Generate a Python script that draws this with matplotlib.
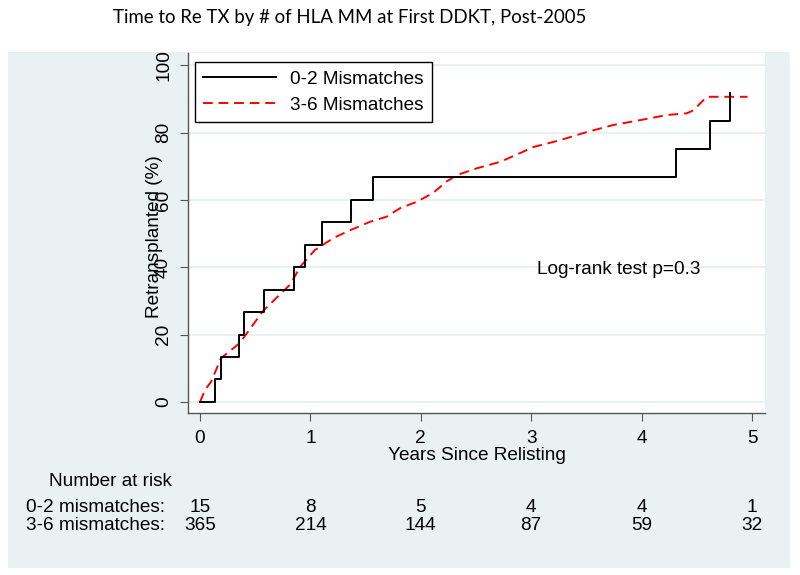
import matplotlib
matplotlib.use("Agg")
import matplotlib.pyplot as plt
from matplotlib.patches import Rectangle

# 0-2 mismatches: step times (years) and cumulative % retransplanted
low_t = [0, 0.14, 0.19, 0.355, 0.397, 0.577, 0.852, 0.952, 1.106, 1.369, 1.565, 4.315, 4.624, 4.80]
low_y = [0, 6.7, 13.3, 20.0, 26.7, 33.3, 40.0, 46.7, 53.3, 60.0, 66.7, 75.0, 83.3, 91.7]

# 3-6 mismatches
high_t = [0, 0.045, 0.10, 0.19, 0.36, 0.57, 0.82, 0.906, 1.04, 1.21, 1.36, 1.54, 1.69, 1.81,
          1.96, 2.11, 2.23, 2.33, 2.51, 2.72, 2.90, 3.02, 3.26, 3.50, 3.74, 3.99, 4.23,
          4.41, 4.47, 4.59, 4.96]
high_y = [0, 3.6, 6.0, 13.0, 17.5, 27.0, 35.0, 40.1, 45.1, 48.7, 51.0, 53.5, 55.0, 57.5,
          59.4, 62.0, 65.4, 67.4, 69.4, 71.3, 73.9, 75.7, 77.7, 80.1, 82.2, 83.7, 85.2,
          85.7, 86.6, 90.6, 90.6]

risk_times = [0, 1, 2, 3, 4, 5]
risk_low = [15, 8, 5, 4, 4, 1]
risk_high = [365, 214, 144, 87, 59, 32]

fnt = "Liberation Sans"
fs = 13.7
panel = "#eaf1f3"

fig = plt.figure(figsize=(8, 5.75), dpi=100)
fig.patch.set_facecolor("white")
bg = Rectangle((8 / 800, 7 / 575), 782 / 800, 516 / 575, transform=fig.transFigure,
               facecolor=panel, edgecolor="none", zorder=-5)
fig.add_artist(bg)

ax = fig.add_axes([188 / 800, 162 / 575, 577 / 800, 360 / 575])
ax.set_facecolor("white")
ax.set_xlim(-0.109, 5.118)
ax.set_ylim(-3.26, 103.6)

for g in range(0, 101, 20):
    ax.axhline(g, color="#e4edef", lw=1.2, zorder=1)

ax.step(low_t, low_y, where="post", color="black", lw=1.4, label="0-2 Mismatches", zorder=3)
ax.plot(high_t, high_y, color="red", lw=1.4, ls=(0, (5, 3)), label="3-6 Mismatches", zorder=2)

for s in ["top", "right"]:
    ax.spines[s].set_visible(False)
for s in ["left", "bottom"]:
    ax.spines[s].set_color("#555555")
    ax.spines[s].set_linewidth(1.0)

ax.set_xticks(risk_times)
ax.set_yticks(range(0, 101, 20))
ax.tick_params(axis="both", color="#555555", length=6, labelsize=fs)
ax.tick_params(axis="x", pad=6.5)
ax.tick_params(axis="y", pad=5.5)
for lab in ax.get_xticklabels():
    lab.set_fontfamily(fnt)
for lab in ax.get_yticklabels():
    lab.set_fontfamily(fnt)
    lab.set_rotation(90)
    lab.set_va("center")

# Stata puts the y title on top of the tick labels, keep that
ax.set_xlabel("Years Since Relisting", fontsize=fs, family=fnt, labelpad=0)
ax.set_ylabel("Retransplanted (%)", fontsize=fs, family=fnt)
ax.yaxis.set_label_coords(-0.044, 0.49)

leg = ax.legend(loc="upper left", bbox_to_anchor=(0.012, 0.975), fancybox=False,
                edgecolor="black", framealpha=1, prop={"family": fnt, "size": fs},
                handlelength=3.8, handletextpad=0.75, borderpad=0.45, labelspacing=0.45,
                borderaxespad=0)
leg.get_frame().set_linewidth(1.0)

ax.text(3.79, 39.2, "Log-rank test p=0.3", fontsize=fs, family=fnt, ha="center", va="center")

fig.text(350 / 800, 1 - 18 / 575, "Time to Re TX by # of HLA MM at First DDKT, Post-2005",
         ha="center", va="center", fontsize=13.4, family="Lato")

# number at risk table
fig.text(110 / 800, 1 - 482 / 575, "Number at risk", ha="center", va="center",
         fontsize=fs, family=fnt)
fig.text(26 / 800, 1 - 508 / 575, "0-2 mismatches:", ha="left", va="center",
         fontsize=fs, family=fnt)
fig.text(26 / 800, 1 - 525 / 575, "3-6 mismatches:", ha="left", va="center",
         fontsize=fs, family=fnt)
for t, a, b in zip(risk_times, risk_low, risk_high):
    xf = fig.transFigure.inverted().transform(ax.transData.transform((t, 0)))[0]
    fig.text(xf, 1 - 508 / 575, str(a), ha="center", va="center", fontsize=fs, family=fnt)
    fig.text(xf, 1 - 525 / 575, str(b), ha="center", va="center", fontsize=fs, family=fnt)

fig.savefig("out.png", dpi=100)
